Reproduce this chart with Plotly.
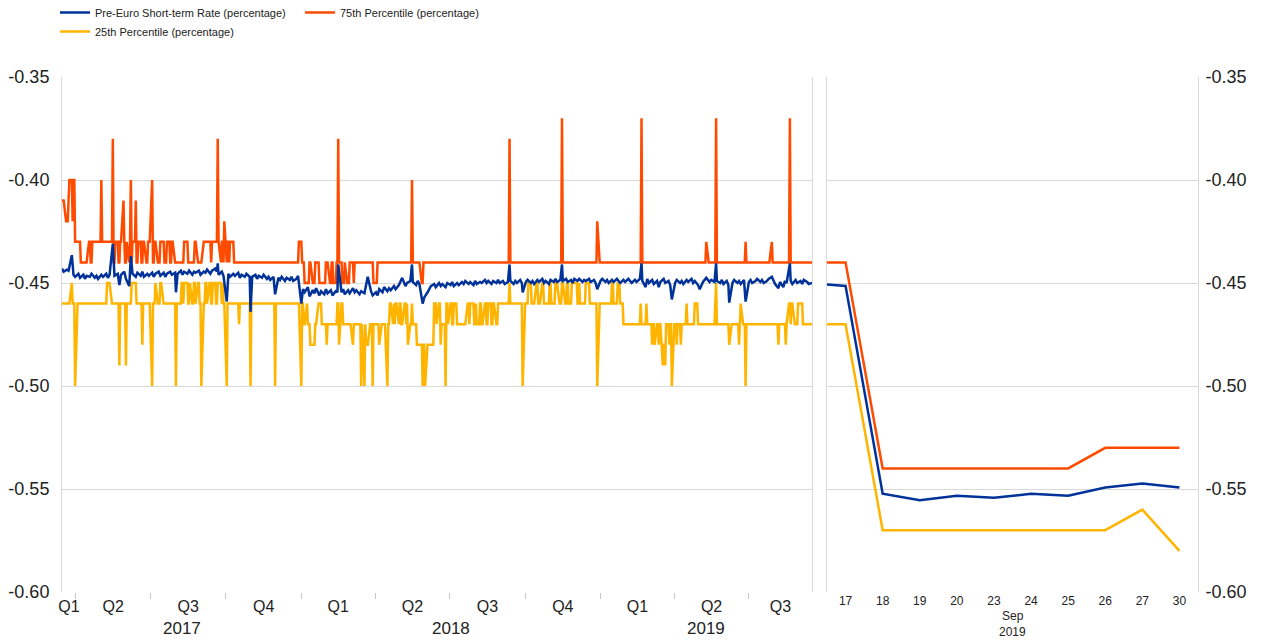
import pandas as pd
import plotly.graph_objects as go

# ---------------- data ----------------
START, END = "2017-03-15", "2019-09-16"   # daily (business-day) observations, left panel

# step-like percentile series: (business-day observation number, new value)
ORANGE_STEPS = [
    (0, -0.41), (3, -0.42), (6, -0.41), (7, -0.40), (9, -0.42), (10, -0.40), (12, -0.43), (17, -0.44),
    (23, -0.43), (25, -0.44), (27, -0.43), (34, -0.40), (35, -0.43), (44, -0.38), (45, -0.44), (47, -0.43),
    (49, -0.44), (51, -0.43), (53, -0.41), (54, -0.43), (55, -0.44), (57, -0.43), (58, -0.44), (59, -0.43),
    (60, -0.40), (61, -0.44), (62, -0.43), (64, -0.41), (65, -0.44), (67, -0.43), (69, -0.44), (71, -0.43),
    (73, -0.44), (75, -0.43), (78, -0.40), (79, -0.44), (81, -0.43), (83, -0.44), (86, -0.43), (89, -0.44),
    (92, -0.43), (94, -0.44), (96, -0.43), (98, -0.44), (107, -0.43), (110, -0.44), (116, -0.43), (118, -0.44),
    (123, -0.43), (130, -0.44), (131, -0.43), (136, -0.38), (137, -0.43), (138, -0.44), (139, -0.43), (141, -0.44),
    (142, -0.42), (143, -0.44), (144, -0.43), (146, -0.44), (147, -0.43), (150, -0.44),
    (207, -0.43), (209, -0.44), (212, -0.45), (216, -0.44), (218, -0.45), (221, -0.44), (224, -0.45), (230, -0.44),
    (233, -0.45), (235, -0.44), (237, -0.45), (239, -0.44), (241, -0.38), (242, -0.44), (244, -0.45), (247, -0.44),
    (248, -0.45), (251, -0.44), (254, -0.45), (255, -0.44), (272, -0.45), (275, -0.44), (305, -0.40), (306, -0.44),
    (313, -0.45), (315, -0.44), (390, -0.38), (391, -0.44), (436, -0.37), (437, -0.44), (467, -0.42), (468, -0.44),
    (505, -0.37), (506, -0.44), (562, -0.43), (563, -0.44), (570, -0.37), (571, -0.44), (596, -0.43), (597, -0.44),
    (618, -0.43), (619, -0.44), (634, -0.37), (635, -0.44),
]

YELLOW_STEPS = [
    (0, -0.46), (8, -0.45), (9, -0.46), (12, -0.50), (13, -0.46), (39, -0.45), (43, -0.46), (50, -0.49),
    (51, -0.46), (56, -0.49), (57, -0.46), (61, -0.45), (65, -0.46), (70, -0.48), (71, -0.46), (78, -0.50),
    (79, -0.46), (82, -0.45), (83, -0.46), (86, -0.45), (88, -0.46), (99, -0.50), (100, -0.46), (104, -0.45),
    (106, -0.46), (107, -0.45), (110, -0.46), (112, -0.45), (113, -0.46), (115, -0.45), (117, -0.46), (118, -0.45),
    (120, -0.46), (122, -0.50), (123, -0.46), (125, -0.45), (127, -0.46), (128, -0.45), (130, -0.46), (132, -0.45),
    (134, -0.46), (136, -0.45), (139, -0.46), (140, -0.45), (141, -0.46), (143, -0.50), (144, -0.46), (154, -0.47),
    (155, -0.46), (164, -0.50), (165, -0.46), (186, -0.50), (187, -0.46), (208, -0.50), (209, -0.46),
    (211, -0.47), (213, -0.46), (214, -0.47), (217, -0.48), (221, -0.47), (223, -0.46), (227, -0.47), (231, -0.48),
    (232, -0.47), (240, -0.46), (242, -0.48), (243, -0.46), (245, -0.47), (253, -0.48), (254, -0.47), (261, -0.50),
    (262, -0.47), (263, -0.50), (264, -0.47), (265, -0.48), (268, -0.47), (271, -0.50), (272, -0.47), (277, -0.48),
    (278, -0.47), (283, -0.50), (284, -0.47), (286, -0.46), (288, -0.47), (289, -0.46), (290, -0.47), (291, -0.46),
    (293, -0.47), (294, -0.46), (296, -0.47), (298, -0.46), (300, -0.47), (301, -0.46), (302, -0.48), (303, -0.47),
    (305, -0.46), (306, -0.47), (309, -0.48), (314, -0.50), (315, -0.48), (317, -0.50), (318, -0.48), (324, -0.46),
    (327, -0.47), (328, -0.46), (330, -0.48), (331, -0.47), (334, -0.50), (335, -0.46), (337, -0.47), (338, -0.46),
    (340, -0.47), (342, -0.46), (344, -0.47), (353, -0.46), (355, -0.47), (356, -0.46), (359, -0.47), (361, -0.46),
    (362, -0.47), (364, -0.46), (366, -0.47), (368, -0.46), (370, -0.47), (372, -0.46), (374, -0.47), (376, -0.46),
    (378, -0.47), (380, -0.46), (390, -0.45), (391, -0.46), (402, -0.50), (403, -0.46), (407, -0.45), (409, -0.46),
    (413, -0.45), (415, -0.46), (418, -0.45), (420, -0.46), (425, -0.45), (427, -0.46), (430, -0.45), (433, -0.46),
    (436, -0.45), (438, -0.46), (440, -0.45), (442, -0.46), (444, -0.45), (449, -0.46), (451, -0.45), (452, -0.46),
    (457, -0.45), (460, -0.46), (467, -0.50), (468, -0.46), (479, -0.45), (481, -0.46), (484, -0.45), (487, -0.46),
    (489, -0.47), (504, -0.46), (505, -0.47), (509, -0.46), (510, -0.47), (514, -0.48), (515, -0.47), (517, -0.48),
    (518, -0.47), (520, -0.48), (521, -0.47), (523, -0.49), (524, -0.48), (526, -0.49), (527, -0.47), (529, -0.48),
    (530, -0.47), (532, -0.50), (533, -0.47), (536, -0.48), (537, -0.47), (539, -0.48), (540, -0.47), (544, -0.46),
    (545, -0.47), (552, -0.46), (554, -0.47), (569, -0.46), (570, -0.45), (571, -0.47), (582, -0.48), (583, -0.47),
    (590, -0.48), (591, -0.47), (592, -0.46), (593, -0.47), (596, -0.50), (597, -0.47), (624, -0.48), (625, -0.47),
    (631, -0.48), (632, -0.47), (633, -0.46), (635, -0.47), (636, -0.46), (638, -0.47), (642, -0.46), (646, -0.47),
]

# pre-euro short-term rate: (business-day observation number, value)
BLUE_POINTS = [
    (0, -0.4430), (2, -0.4445), (4, -0.4435), (6, -0.4440), (8, -0.4365), (10, -0.4460), (12, -0.4470), (14, -0.4455),
    (16, -0.4475), (18, -0.4460), (20, -0.4480), (22, -0.4465), (24, -0.4470), (26, -0.4455), (28, -0.4475), (30, -0.4465),
    (32, -0.4480), (34, -0.4460), (36, -0.4470), (38, -0.4455), (40, -0.4475), (42, -0.4460), (44, -0.4310), (46, -0.4465),
    (48, -0.4455), (50, -0.4510), (52, -0.4460), (54, -0.4445), (56, -0.4480), (58, -0.4515), (60, -0.4370), (62, -0.4455),
    (64, -0.4470), (66, -0.4450), (68, -0.4465), (70, -0.4445), (72, -0.4470), (74, -0.4455), (76, -0.4465), (78, -0.4450),
    (80, -0.4470), (82, -0.4455), (84, -0.4445), (86, -0.4465), (88, -0.4450), (90, -0.4470), (92, -0.4455), (94, -0.4445),
    (96, -0.4460), (98, -0.4450), (99, -0.4545), (101, -0.4455), (103, -0.4440), (105, -0.4460), (107, -0.4445), (109, -0.4455),
    (111, -0.4440), (113, -0.4460), (115, -0.4445), (117, -0.4450), (119, -0.4440), (121, -0.4460), (123, -0.4445), (125, -0.4450),
    (127, -0.4435), (129, -0.4455), (131, -0.4440), (133, -0.4430), (135, -0.4445), (136, -0.4405), (137, -0.4460), (139, -0.4445),
    (141, -0.4465), (143, -0.4590), (145, -0.4455), (147, -0.4470), (149, -0.4455), (151, -0.4465), (153, -0.4450), (155, -0.4475),
    (157, -0.4460), (159, -0.4470), (161, -0.4455), (163, -0.4470), (164, -0.4640), (166, -0.4470), (168, -0.4460), (170, -0.4480),
    (172, -0.4465), (174, -0.4475), (176, -0.4460), (178, -0.4480), (180, -0.4470), (182, -0.4485), (184, -0.4470), (186, -0.4555),
    (188, -0.4475), (190, -0.4485), (192, -0.4470), (194, -0.4490), (196, -0.4475), (198, -0.4485), (200, -0.4470), (202, -0.4490),
    (204, -0.4480), (206, -0.4465), (208, -0.4600), (210, -0.4530), (212, -0.4545), (214, -0.4520), (216, -0.4565), (218, -0.4535),
    (220, -0.4550), (222, -0.4525), (224, -0.4560), (226, -0.4540), (228, -0.4555), (230, -0.4530), (232, -0.4550), (234, -0.4535),
    (236, -0.4560), (238, -0.4540), (240, -0.4545), (241, -0.4410), (243, -0.4545), (245, -0.4530), (247, -0.4555), (249, -0.4535),
    (251, -0.4550), (253, -0.4525), (255, -0.4545), (257, -0.4535), (259, -0.4555), (261, -0.4540), (263, -0.4550), (265, -0.4500),
    (267, -0.4470), (269, -0.4540), (271, -0.4560), (273, -0.4545), (275, -0.4560), (277, -0.4530), (279, -0.4545), (281, -0.4520),
    (283, -0.4540), (285, -0.4525), (287, -0.4535), (289, -0.4515), (291, -0.4530), (293, -0.4510), (295, -0.4490), (297, -0.4475),
    (299, -0.4515), (301, -0.4500), (303, -0.4490), (305, -0.4410), (306, -0.4495), (308, -0.4510), (310, -0.4490), (312, -0.4505),
    (314, -0.4600), (316, -0.4570), (318, -0.4545), (320, -0.4530), (322, -0.4515), (324, -0.4505), (326, -0.4520), (328, -0.4500),
    (330, -0.4515), (332, -0.4505), (334, -0.4520), (336, -0.4500), (338, -0.4510), (340, -0.4495), (342, -0.4515), (344, -0.4500),
    (346, -0.4510), (348, -0.4495), (350, -0.4505), (352, -0.4490), (354, -0.4505), (356, -0.4495), (358, -0.4510), (360, -0.4490),
    (362, -0.4505), (364, -0.4495), (366, -0.4500), (368, -0.4485), (370, -0.4500), (372, -0.4490), (374, -0.4505), (376, -0.4490),
    (378, -0.4500), (380, -0.4485), (382, -0.4500), (384, -0.4490), (386, -0.4505), (388, -0.4495), (390, -0.4410), (391, -0.4490),
    (393, -0.4505), (395, -0.4490), (397, -0.4500), (399, -0.4485), (401, -0.4500), (402, -0.4545), (404, -0.4495), (406, -0.4485),
    (408, -0.4500), (410, -0.4490), (412, -0.4505), (414, -0.4485), (416, -0.4495), (418, -0.4480), (420, -0.4500), (422, -0.4490),
    (424, -0.4505), (426, -0.4485), (428, -0.4495), (430, -0.4480), (432, -0.4495), (434, -0.4485), (436, -0.4410), (437, -0.4490),
    (439, -0.4480), (441, -0.4495), (443, -0.4485), (445, -0.4500), (447, -0.4480), (449, -0.4490), (451, -0.4480), (453, -0.4495),
    (455, -0.4485), (457, -0.4490), (459, -0.4480), (461, -0.4495), (463, -0.4485), (465, -0.4500), (467, -0.4530), (469, -0.4490),
    (471, -0.4480), (473, -0.4495), (475, -0.4485), (477, -0.4500), (479, -0.4485), (481, -0.4495), (483, -0.4480), (485, -0.4490),
    (487, -0.4500), (489, -0.4485), (491, -0.4495), (493, -0.4480), (495, -0.4490), (497, -0.4500), (499, -0.4485), (501, -0.4495),
    (503, -0.4480), (505, -0.4405), (506, -0.4490), (508, -0.4520), (510, -0.4480), (512, -0.4500), (514, -0.4485), (516, -0.4505),
    (518, -0.4490), (520, -0.4520), (522, -0.4495), (524, -0.4480), (526, -0.4500), (528, -0.4490), (530, -0.4510), (532, -0.4580),
    (534, -0.4500), (536, -0.4485), (538, -0.4500), (540, -0.4490), (542, -0.4505), (544, -0.4485), (546, -0.4495), (548, -0.4480),
    (550, -0.4500), (552, -0.4490), (554, -0.4510), (556, -0.4530), (558, -0.4495), (560, -0.4485), (562, -0.4475), (564, -0.4495),
    (566, -0.4485), (568, -0.4495), (570, -0.4405), (571, -0.4490), (573, -0.4500), (575, -0.4485), (577, -0.4505), (579, -0.4490),
    (581, -0.4510), (582, -0.4595), (584, -0.4500), (586, -0.4485), (588, -0.4500), (590, -0.4490), (592, -0.4505), (594, -0.4485),
    (596, -0.4590), (598, -0.4495), (600, -0.4485), (602, -0.4500), (604, -0.4490), (606, -0.4480), (608, -0.4495), (610, -0.4485),
    (612, -0.4500), (614, -0.4490), (616, -0.4480), (618, -0.4470), (620, -0.4490), (622, -0.4505), (624, -0.4525), (626, -0.4495),
    (628, -0.4520), (630, -0.4490), (632, -0.4500), (634, -0.4405), (635, -0.4490), (637, -0.4505), (639, -0.4485), (641, -0.4500),
    (643, -0.4490), (645, -0.4505), (647, -0.4485), (649, -0.4495), (651, -0.4505), (653, -0.4500),
]

# right panel: 17-30 September 2019
SEP_DAYS = ["17", "18", "19", "20", "23", "24", "25", "26", "27", "30"]
SEP_BLUE = [-0.4514, -0.5523, -0.5554, -0.5533, -0.5543, -0.5523, -0.5533, -0.5493, -0.5473, -0.5493]
SEP_P75 = [-0.44, -0.54, -0.54, -0.54, -0.54, -0.54, -0.54, -0.53, -0.53, -0.53]
SEP_P25 = [-0.47, -0.57, -0.57, -0.57, -0.57, -0.57, -0.57, -0.57, -0.56, -0.58]
PREV_DAY = "16"   # last observation of the left panel (16 Sep), continues off the right panel's edge

NAMES = ["Pre-Euro Short-term Rate (percentage)", "75th Percentile (percentage)", "25th Percentile (percentage)"]
COLORS = {"blue": "#003299", "orange": "#FF4B00", "yellow": "#FFB400"}
Y_TICKS = [-0.35, -0.40, -0.45, -0.50, -0.55, -0.60]
Y_TICKTEXT = ["-0.35", "-0.40", "-0.45", "-0.50", "-0.55", "-0.60"]

# ---------------- build series ----------------
days = pd.bdate_range(START, END)


def expand(steps):
    out, j, cur = [], 0, None
    for i in range(len(days)):
        while j < len(steps) and steps[j][0] <= i:
            cur = steps[j][1]
            j += 1
        out.append(cur)
    return out


orange = expand(ORANGE_STEPS)
yellow = expand(YELLOW_STEPS)
blue_x = [days[i] for i, _ in BLUE_POINTS]
blue_y = [v for _, v in BLUE_POINTS]

FONT = "Liberation Sans, Arial, sans-serif"
TXT = "#222222"
GRID = "#d9d9d9"
LW = 2.5

fig = go.Figure()
# left panel
fig.add_trace(go.Scatter(x=days, y=yellow, mode="lines", name=NAMES[2], line=dict(color=COLORS["yellow"], width=LW),
                         legend="legend", xaxis="x", yaxis="y"))
fig.add_trace(go.Scatter(x=days, y=orange, mode="lines", name=NAMES[1], line=dict(color=COLORS["orange"], width=LW),
                         legend="legend2", xaxis="x", yaxis="y"))
fig.add_trace(go.Scatter(x=blue_x, y=blue_y, mode="lines", name=NAMES[0], line=dict(color=COLORS["blue"], width=LW),
                         legend="legend", xaxis="x", yaxis="y"))
# right panel
cats = [PREV_DAY] + SEP_DAYS
fig.add_trace(go.Scatter(x=cats, y=[yellow[-1]] + SEP_P25, mode="lines", showlegend=False,
                         line=dict(color=COLORS["yellow"], width=LW), xaxis="x2", yaxis="y2"))
fig.add_trace(go.Scatter(x=cats, y=[orange[-1]] + SEP_P75, mode="lines", showlegend=False,
                         line=dict(color=COLORS["orange"], width=LW), xaxis="x2", yaxis="y2"))
fig.add_trace(go.Scatter(x=cats, y=[blue_y[-1]] + SEP_BLUE, mode="lines", showlegend=False,
                         line=dict(color=COLORS["blue"], width=LW), xaxis="x2", yaxis="y2"))

# quarter labels centred in visible part of each quarter, minor ticks at quarter boundaries
t0, t1 = pd.Timestamp(START), pd.Timestamp(END)
q_centers, q_labels, q_bounds = [], [], []
for qs in pd.date_range("2017-01-01", "2019-12-31", freq="QS"):
    qe = qs + pd.DateOffset(months=3)
    a, b = max(qs, t0), min(qe, t1)
    if a < b:
        q_centers.append(a + (b - a) / 2)
        q_labels.append(f"Q{qs.quarter}")
    if t0 < qs < t1:
        q_bounds.append(qs)

annotations = []
for yr in [2017, 2018, 2019]:
    a, b = max(pd.Timestamp(f"{yr}-01-01"), t0), min(pd.Timestamp(f"{yr + 1}-01-01"), t1)
    annotations.append(dict(x=a + (b - a) / 2, xref="x", y=-0.070, yref="paper", text=str(yr), showarrow=False,
                            font=dict(size=17, color=TXT, family=FONT), yanchor="middle"))
annotations.append(dict(x=0.5, xref="x2 domain", y=-0.047, yref="paper", text="Sep", showarrow=False,
                        font=dict(size=12, color=TXT, family=FONT), yanchor="middle"))
annotations.append(dict(x=0.5, xref="x2 domain", y=-0.078, yref="paper", text="2019", showarrow=False,
                        font=dict(size=12, color=TXT, family=FONT), yanchor="middle"))

W, H = 1262, 640
ML, MR, MT, MB = 62, 64, 77, 48
pw = W - ML - MR
ph = H - MT - MB
left_end = (812 - ML) / pw
right_start = (827 - ML) / pw

yax_common = dict(range=[-0.60, -0.35], tickmode="array", tickvals=Y_TICKS, ticktext=Y_TICKTEXT,
                  showgrid=True, gridcolor=GRID, gridwidth=1, zeroline=False,
                  showline=True, linecolor=GRID, linewidth=1, mirror=True,
                  tickfont=dict(size=18, color=TXT, family=FONT), ticks="")

fig.update_layout(
    width=W, height=H,
    margin=dict(l=ML, r=MR, t=MT, b=MB, autoexpand=False),
    paper_bgcolor="white", plot_bgcolor="white",
    font=dict(family=FONT, color=TXT),
    xaxis=dict(domain=[0, left_end], type="date", range=[t0, t1], anchor="y",
               tickmode="array", tickvals=q_centers, ticktext=q_labels,
               ticks="outside", ticklen=0, tickcolor="rgba(0,0,0,0)",
               tickfont=dict(size=16, color=TXT, family=FONT),
               minor=dict(tickmode="array", tickvals=q_bounds, ticks="outside", ticklen=6,
                          tickcolor="#c8c8c8", showgrid=False),
               showgrid=False, showline=False, zeroline=False),
    yaxis=dict(anchor="x", side="left", ticklabelstandoff=8, **yax_common),
    xaxis2=dict(domain=[right_start, 1], type="category", range=[0.5, len(cats) - 0.5], anchor="y2",
                tickfont=dict(size=12, color=TXT, family=FONT), ticks="",
                showgrid=False, showline=False, zeroline=False),
    yaxis2=dict(anchor="x2", side="right", ticklabelstandoff=3, **yax_common),
    legend=dict(xref="paper", yref="paper", x=(55 - ML) / pw, y=1 + (MT + 2) / ph, xanchor="left", yanchor="top",
                orientation="v", traceorder="reversed", font=dict(size=11, color=TXT, family=FONT),
                bgcolor="rgba(0,0,0,0)", tracegroupgap=0),
    legend2=dict(xref="paper", yref="paper", x=(300 - ML) / pw, y=1 + (MT + 2) / ph, xanchor="left", yanchor="top",
                 orientation="v", font=dict(size=11, color=TXT, family=FONT), bgcolor="rgba(0,0,0,0)"),
    annotations=annotations,
    showlegend=True,
)

# page without the browser's default 8px body margin, so the figure sits at the window's corner
fig.write_html("out.html", config={"displayModeBar": False},
               post_script="document.body.style.margin='0';")
